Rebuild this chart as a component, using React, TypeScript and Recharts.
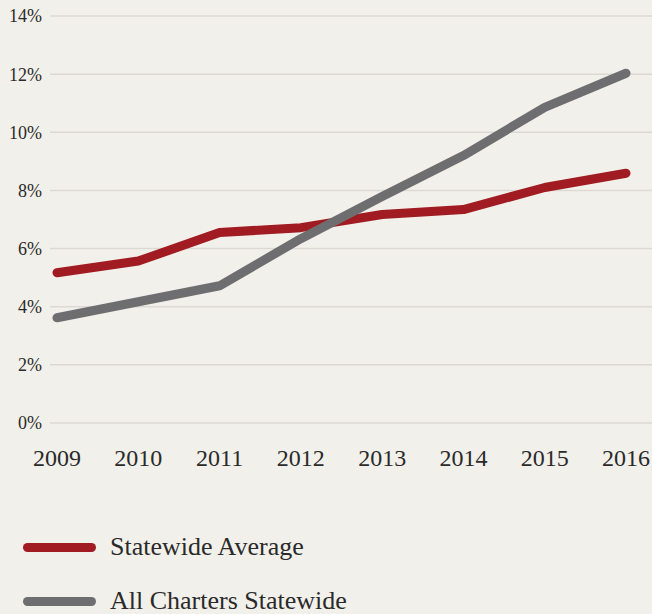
import React from "react";
import {
  LineChart,
  Line,
  XAxis,
  YAxis,
  CartesianGrid,
  Legend,
} from "recharts";

const YEARS = ["2009", "2010", "2011", "2012", "2013", "2014", "2015", "2016"];
const STATEWIDE_AVERAGE = [5.17, 5.57, 6.55, 6.72, 7.17, 7.34, 8.1, 8.59];
const ALL_CHARTERS = [3.62, 4.17, 4.72, 6.34, 7.79, 9.2, 10.86, 12.03];
const Y_TICKS = [0, 2, 4, 6, 8, 10, 12, 14];

const SERIES = [
  { key: "statewide", name: "Statewide Average", color: "#a11b22" },
  { key: "charters", name: "All Charters Statewide", color: "#6e6e70" },
];

const data = YEARS.map((year, i) => ({
  year,
  statewide: STATEWIDE_AVERAGE[i],
  charters: ALL_CHARTERS[i],
}));

const FONT = "'Liberation Serif', 'DejaVu Serif', serif";

const LegendContent = () => (
  <div style={{ fontFamily: FONT }}>
    {SERIES.map((s) => (
      <div
        key={s.key}
        style={{ display: "flex", alignItems: "center", height: 54 }}
      >
        <div
          style={{
            width: 73,
            height: 9,
            borderRadius: 5,
            background: s.color,
            marginLeft: 23,
            marginRight: 14,
          }}
        />
        <span style={{ fontSize: 26, color: "#2a2a2a" }}>{s.name}</span>
      </div>
    ))}
  </div>
);

export default function App() {
  return (
    <div
      style={{
        position: "absolute",
        left: 0,
        top: 0,
        width: 652,
        height: 614,
        background: "#f2f0eb",
        overflow: "hidden",
      }}
    >
      <LineChart
        width={652}
        height={614}
        data={data}
        margin={{ top: 16, right: 0, left: 0, bottom: 53 }}
      >
        <CartesianGrid vertical={false} stroke="#dcd9d3" strokeWidth={1.5} />
        <XAxis
          dataKey="year"
          axisLine={false}
          tickLine={false}
          tickMargin={20}
          padding={{ left: 7, right: 26 }}
          interval={0}
          tick={{ fontSize: 24, fill: "#2a2a2a", fontFamily: FONT }}
        />
        <YAxis
          width={50}
          domain={[0, 14]}
          ticks={Y_TICKS}
          axisLine={false}
          tickLine={false}
          tickFormatter={(v) => `${v}%`}
          tick={{ fontSize: 18, fill: "#2a2a2a", fontFamily: FONT }}
        />
        <Legend
          content={<LegendContent />}
          wrapperStyle={{ position: "absolute", left: 0, top: 520, width: 652 }}
        />
        {SERIES.map((s) => (
          <Line
            key={s.key}
            type="linear"
            dataKey={s.key}
            name={s.name}
            stroke={s.color}
            strokeWidth={9}
            strokeLinecap="round"
            strokeLinejoin="round"
            dot={false}
            activeDot={false}
            isAnimationActive={false}
          />
        ))}
      </LineChart>
    </div>
  );
}
